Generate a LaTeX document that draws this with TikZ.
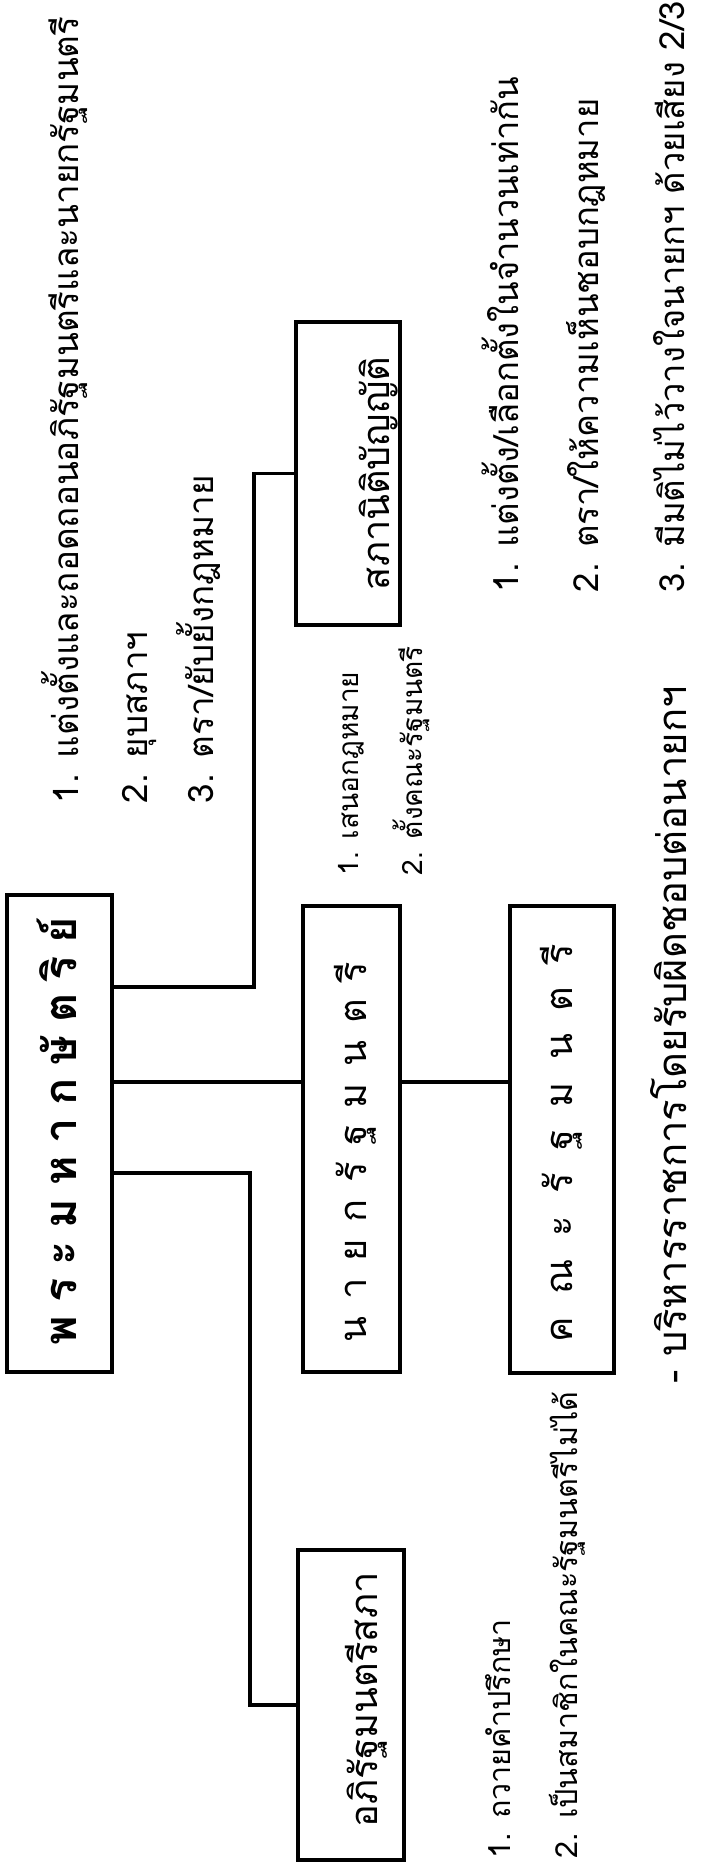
\documentclass[tikz,border=0pt]{standalone}
\usepackage{fontspec}
\newfontfamily\thai[Script=Thai]{Loma}
\newcommand\fsel[1]{\thai\fontsize{#1pt}{#1pt}\selectfont}
\tikzset{
  txt/.style={rotate=90, anchor=base west, inner sep=0pt, outer sep=0pt},
  lbl/.style={rotate=90, anchor=base, inner sep=0pt, outer sep=0pt},
  box/.style={draw, line width=3.6pt, rotate=90, inner sep=0pt, outer sep=0pt},
  conn/.style={line width=3.2pt}
}
\begin{document}
\begin{tikzpicture}[x=1pt,y=-1pt]
\useasboundingbox (0,0) rectangle (701,1871);

% boxes
\node[box, minimum width=477pt, minimum height=105pt] (king) at (59.5,1133.5) {};
\node[box, minimum width=303pt, minimum height=104pt] (leg) at (348,473.5) {};
\node[box, minimum width=466pt, minimum height=97pt] (pm) at (351.5,1139) {};
\node[box, minimum width=467pt, minimum height=104pt] (cab) at (562,1139.5) {};
\node[box, minimum width=310pt, minimum height=106pt] (priv) at (351,1705) {};

% box labels
\node[lbl, font=\fsel{45}\bfseries] (kingl) at (76,1131)
  {\makebox[428pt][s]{พ\hfill ร\hfill ะ\hfill ม\hfill ห\hfill า\hfill ก\hfill ษั\hfill ต\hfill ริ\hfill ย์}};
\node[lbl, font=\fsel{37.9}] (legl) at (389,473.5) {สภานิติบัญญัติ};
\node[lbl, font=\fsel{38}] (pml) at (366,1152)
  {\makebox[380pt][s]{น\hfill า\hfill ย\hfill ก\hfill รั\hfill ฐ\hfill ม\hfill น\hfill ต\hfill รี}};
\node[lbl, font=\fsel{38}] (cabl) at (572,1143)
  {\makebox[398pt][s]{ค\hfill ณ\hfill ะ\hfill รั\hfill ฐ\hfill ม\hfill น\hfill ต\hfill รี}};
\node[lbl, font=\fsel{38}] (privl) at (377,1700) {อภิรัฐมนตรีสภา};

% connectors
\draw[conn] (king.south |- 0,987) -| (leg.north -| 254,0) -- (leg.north);
\draw[conn] (king.south |- 0,1082) -- (pm.north |- 0,1082);
\draw[conn] (pm.south |- 0,1082) -- (cab.north |- 0,1082);
\draw[conn] (king.south |- 0,1173) -| (priv.north -| 250,0) -- (priv.north);

% king powers
\node[txt, font=\fsel{35}] (k1) at (78,803) {1. แต่งตั้งและถอดถอนอภิรัฐมนตรีและนายกรัฐมนตรี};
\node[txt, font=\fsel{35}] (k2) at (147,803) {2. ยุบสภาฯ};
\node[txt, font=\fsel{35}] (k3) at (213,803) {3. ตรา/ยับยั้งกฎหมาย};
% prime minister
\node[txt, font=\fsel{28}] (p1) at (358,875) {1. เสนอกฎหมาย};
\node[txt, font=\fsel{28}] (p2) at (422,875) {2. ตั้งคณะรัฐมนตรี};
% legislature
\node[txt, font=\fsel{34.6}] (l1) at (518,592) {1. แต่งตั้ง/เลือกตั้งในจำนวนเท่ากัน};
\node[txt, font=\fsel{34.6}] (l2) at (598,592) {2. ตรา/ให้ความเห็นชอบกฎหมาย};
\node[txt, font=\fsel{34.6}] (l3) at (684,592) {3. มีมติไม่ไว้วางใจนายกฯ ด้วยเสียง 2/3};
% cabinet
\node[txt, font=\fsel{40}] (c1) at (686,1383) {- บริหารราชการโดยรับผิดชอบต่อนายกฯ};
% privy council
\node[txt, font=\fsel{30.5}] (a1) at (510,1858) {1. ถวายคำปรึกษา};
\node[txt, font=\fsel{30.5}] (a2) at (577,1858) {2. เป็นสมาชิกในคณะรัฐมนตรีไม่ได้};
\end{tikzpicture}
\end{document}
